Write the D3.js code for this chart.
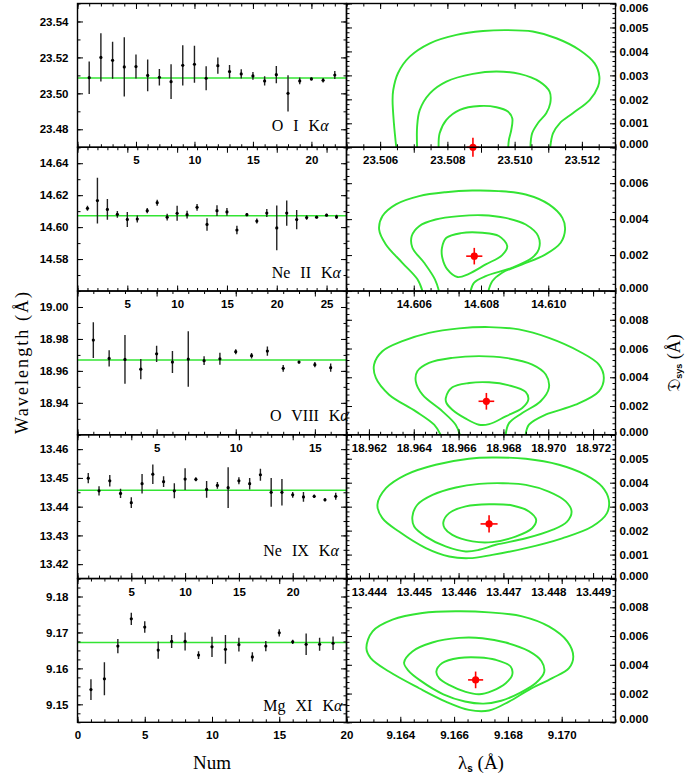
<!DOCTYPE html>
<html>
<head>
<meta charset="utf-8">
<script src="https://cdn.jsdelivr.net/npm/d3@7"></script>
<style>
  body { margin: 0; background: #fff; }
</style>
</head>
<body>
<div id="chart"></div>
<script>
// ---- values ----
var ionNames = ["O I", "Ne II", "O VIII", "Ne IX", "Mg XI"];

// left column: fitted wavelength of each observation (Num = 1..n) and its error
var oiWave = [23.5087, 23.5200, 23.5184, 23.5147, 23.5149, 23.5100, 23.5089, 23.5065, 23.5156, 23.5162, 23.5084,
              23.5154, 23.5121, 23.5108, 23.5097, 23.5069, 23.5104, 23.5000, 23.5069, 23.5080, 23.5073, 23.5102];
var oiErr  = [0.0090, 0.0134, 0.0103, 0.0165, 0.0067, 0.0088, 0.0046, 0.0097, 0.0112, 0.0103, 0.0067,
              0.0045, 0.0037, 0.0026, 0.0022, 0.0026, 0.0048, 0.0101, 0.0019, 0.0008, 0.0013, 0.0022];
var neiiWave = [14.6118, 14.6166, 14.6111, 14.6080, 14.6048, 14.6051, 14.6103, 14.6153, 14.6062, 14.6087, 14.6078, 14.6124, 14.6017,
                14.6103, 14.6095, 14.5982, 14.6078, 14.6038, 14.6088, 14.5995, 14.6088, 14.6047, 14.6060, 14.6062, 14.6075, 14.6064];
var neiiErr  = [0.0016, 0.0143, 0.0065, 0.0021, 0.0047, 0.0022, 0.0016, 0.0019, 0.0021, 0.0047, 0.0024, 0.0021, 0.0039,
                0.0034, 0.0024, 0.0026, 0.0010, 0.0016, 0.0025, 0.0140, 0.0079, 0.0061, 0.0014, 0.0008, 0.0008, 0.0013];
var oviiiWave = [18.9793, 18.9678, 18.9672, 18.9611, 18.9707, 18.9655, 18.9674, 18.9664,
                 18.9676, 18.9720, 18.9695, 18.9724, 18.9616, 18.9655, 18.9639, 18.9620];
var oviiiErr  = [0.0112, 0.0051, 0.0152, 0.0064, 0.0051, 0.0069, 0.0174, 0.0027,
                 0.0038, 0.0016, 0.0017, 0.0029, 0.0021, 0.0009, 0.0016, 0.0026];
var neixWave = [13.4499, 13.4455, 13.4490, 13.4446, 13.4414, 13.4480, 13.4513, 13.4487, 13.4455, 13.4496, 13.4495, 13.4460,
                13.4474, 13.4466, 13.4490, 13.4480, 13.4511, 13.4450, 13.4450, 13.4441, 13.4434, 13.4436, 13.4424, 13.4436];
var neixErr  = [0.0018, 0.0016, 0.0020, 0.0016, 0.0019, 0.0034, 0.0034, 0.0019, 0.0026, 0.0038, 0.0007, 0.0029,
                0.0012, 0.0071, 0.0012, 0.0020, 0.0021, 0.0050, 0.0046, 0.0010, 0.0017, 0.0006, 0.0006, 0.0012];
var mgxiWave = [9.1541, 9.1571, 9.1662, 9.1738, 9.1715, 9.1651, 9.1675, 9.1675, 9.1637, 9.1660,
                9.1653, 9.1666, 9.1632, 9.1662, 9.1699, 9.1674, 9.1667, 9.1667, 9.1670];
var mgxiErr  = [0.0029, 0.0046, 0.0020, 0.0017, 0.0016, 0.0024, 0.0018, 0.0025, 0.0011, 0.0028,
                0.0040, 0.0019, 0.0013, 0.0014, 0.0010, 0.0006, 0.0030, 0.0018, 0.0019];

// green horizontal line in each left panel
var fitWave = [23.5086, 14.6071, 18.9668, 13.4457, 9.1672];

// right column: best fit (red) and its errors
var bestWave    = [23.50876, 14.6078, 18.96724, 13.44668, 9.1668];
var bestWaveErr = [0.00018, 0.00024, 0.00035, 0.00019, 0.00028];
var bestSys     = [0, 0.00194, 0.00233, 0.00228, 0.00295];
var bestSysErr  = [0.0004, 0.00046, 0.00058, 0.00036, 0.00058];

// confidence contours [lambda_s, D_sys], outer -> inner
var oiContours = [
  [[23.50648,0],[23.50641,0.001],[23.50637,0.00197],[23.50639,0.00239],[23.50653,0.00309],[23.50688,0.00378],[23.50748,0.00434],
   [23.50827,0.00469],[23.50906,0.00485],[23.50975,0.00489],[23.51054,0.00483],[23.51124,0.00455],[23.51193,0.00406],
   [23.51238,0.0035],[23.51252,0.00295],[23.51248,0.00253],[23.51223,0.00197],[23.51173,0.00142],[23.51134,0.001],
   [23.51114,0.00058],[23.51106,0]],
  [[23.5071,0],[23.5071,0.00086],[23.50718,0.00156],[23.50748,0.00225],[23.50797,0.00274],[23.50876,0.00306],[23.50946,0.00316],
   [23.51015,0.00306],[23.51074,0.00274],[23.51104,0.00232],[23.51106,0.00184],[23.51094,0.00142],[23.51069,0.001],
   [23.51052,0.00058],[23.51047,0]],
  [[23.50774,0],[23.50777,0.00058],[23.50797,0.00114],[23.50837,0.00156],[23.50896,0.00172],[23.50946,0.00167],
   [23.5098,0.00149],[23.50993,0.00121],[23.5099,0.00072],[23.50983,0.00031],[23.50981,0]]
];
var neiiContours = [
  [[14.60626,0],[14.60611,0.00065],[14.60566,0.00157],[14.60517,0.00259],[14.60497,0.00343],[14.60507,0.00417],[14.60547,0.00482],
   [14.60616,0.00528],[14.60695,0.0055],[14.60774,0.00559],[14.60853,0.00556],[14.60933,0.00537],[14.61002,0.00482],
   [14.61042,0.00407],[14.6105,0.00343],[14.61037,0.00269],[14.60992,0.00204],[14.60923,0.00148],[14.60863,0.00102],
   [14.60834,0.00056],[14.60822,0]],
  [[14.60675,0],[14.60663,0.00065],[14.60631,0.00157],[14.60596,0.00241],[14.60594,0.00306],[14.60616,0.00361],[14.60665,0.00398],
   [14.60735,0.00417],[14.60804,0.00422],[14.60873,0.00407],[14.60933,0.0037],[14.6097,0.00306],[14.60972,0.00232],
   [14.60952,0.00185],[14.60893,0.0013],[14.60814,0.00083],[14.60779,0.00046],[14.60769,0]],
  [[14.60684,0.00241],[14.60697,0.00296],[14.6074,0.00322],[14.60804,0.00324],[14.60853,0.00306],[14.60878,0.0025],
   [14.60863,0.002],[14.60814,0.00148],[14.60764,0.00096],[14.6073,0.00078],[14.607,0.0012],[14.60685,0.00185]]
];
var oviiiContours = [
  [[18.9652,0],[18.96491,0.0007],[18.96409,0.00163],[18.9629,0.00279],[18.96231,0.00395],[18.96223,0.00488],[18.9626,0.00581],
   [18.96349,0.00651],[18.96468,0.00709],[18.96602,0.0074],[18.96736,0.00749],[18.96869,0.00733],[18.97003,0.00674],
   [18.97137,0.00581],[18.97226,0.00488],[18.97248,0.00395],[18.97226,0.00302],[18.97122,0.00209],[18.96988,0.0014],
   [18.96914,0.0007],[18.96899,0]],
  [[18.96606,0],[18.96587,0.0007],[18.96528,0.00163],[18.96439,0.00279],[18.96409,0.00372],[18.96416,0.00442],[18.96468,0.005],
   [18.96572,0.00535],[18.96691,0.00547],[18.9681,0.00535],[18.96929,0.00488],[18.96989,0.00419],[18.97003,0.00326],
   [18.96966,0.00233],[18.96884,0.00151],[18.96825,0.00081],[18.9681,0]],
  [[18.96543,0.00256],[18.96572,0.0033],[18.96647,0.0036],[18.96736,0.00365],[18.96825,0.00344],[18.96899,0.00298],
   [18.96911,0.00244],[18.96884,0.00186],[18.9681,0.00128],[18.96736,0.00074],[18.96691,0.0007],[18.96632,0.00112],
   [18.96572,0.00174],[18.96546,0.00221]]
];
var neixContours = [
  [[13.44419,0.00308],[13.44438,0.00377],[13.44482,0.00433],[13.44549,0.00475],[13.44623,0.005],[13.44675,0.00505],
   [13.4475,0.005],[13.44824,0.00475],[13.44883,0.00433],[13.4492,0.00384],[13.44935,0.00329],[13.44931,0.00273],
   [13.44898,0.00217],[13.44831,0.00168],[13.4475,0.00127],[13.44675,0.00099],[13.44623,0.00085],[13.44579,0.00092],
   [13.44527,0.00127],[13.44467,0.00196],[13.4443,0.00252]],
  [[13.44497,0.00259],[13.44508,0.00308],[13.44542,0.00349],[13.44594,0.0038],[13.44646,0.00395],[13.44698,0.00398],
   [13.4475,0.00391],[13.44801,0.00363],[13.44839,0.00322],[13.44852,0.0028],[13.44842,0.00238],[13.44809,0.00203],
   [13.4475,0.00168],[13.44683,0.00141],[13.44646,0.0012],[13.44616,0.00113],[13.44571,0.00134],[13.44527,0.00175],
   [13.44501,0.00217]],
  [[13.44566,0.00235],[13.44579,0.00273],[13.44616,0.00301],[13.44668,0.0031],[13.4472,0.00305],[13.44757,0.0028],
   [13.44773,0.00245],[13.44764,0.0021],[13.44727,0.00175],[13.44675,0.00152],[13.44631,0.00155],[13.44586,0.00182],
   [13.44569,0.0021]]
];
var mgxiContours = [
  [[9.16274,0.00516],[9.16297,0.00633],[9.16371,0.00714],[9.16482,0.0076],[9.16606,0.00772],[9.1673,0.00765],[9.16853,0.00737],
   [9.16952,0.00667],[9.17021,0.00563],[9.17043,0.00458],[9.17027,0.00377],[9.16965,0.00307],[9.16878,0.00226],
   [9.16804,0.00144],[9.1673,0.00082],[9.16655,0.00086],[9.16569,0.00144],[9.1647,0.00237],[9.16358,0.00353],[9.1629,0.00447]],
  [[9.16414,0.00415],[9.16445,0.00493],[9.16519,0.00555],[9.16618,0.00587],[9.16705,0.00585],[9.16792,0.00555],[9.16878,0.00495],
   [9.16925,0.00425],[9.16935,0.0035],[9.16905,0.00275],[9.16845,0.00205],[9.16775,0.0015],[9.1671,0.0013],[9.1664,0.00145],
   [9.1656,0.00195],[9.16475,0.0029],[9.1643,0.0036]],
  [[9.16534,0.00353],[9.16556,0.00412],[9.16618,0.00447],[9.16693,0.00451],[9.16754,0.00435],[9.1681,0.00388],[9.16816,0.0033],
   [9.16792,0.00272],[9.16742,0.00219],[9.16693,0.00195],[9.16643,0.00212],[9.16581,0.0026],[9.16544,0.00307]]
];
var contourClosed = [[false, false, false], [false, false, true], [false, false, true], [true, true, true], [true, true, true]];

// axis ranges and tick labels
var leftYDomain = [[23.47, 23.55], [14.56, 14.65], [18.92, 19.01], [13.415, 13.465], [9.145, 9.185]];
var leftYLabels = [[23.48, 23.50, 23.52, 23.54], [14.58, 14.60, 14.62, 14.64], [18.94, 18.96, 18.98, 19.00],
                   [13.42, 13.43, 13.44, 13.45, 13.46], [9.15, 9.16, 9.17, 9.18]];
var leftYMinor = [0.01, 0.01, 0.01, 0.005, 0.0025];
var rightXDomain = [[23.505, 23.513], [14.604, 14.612], [18.961, 18.973], [13.4435, 13.4495], [9.162, 9.172]];
var rightXLabels = [[23.506, 23.508, 23.510, 23.512], [14.606, 14.608, 14.610],
                    [18.962, 18.964, 18.966, 18.968, 18.970, 18.972],
                    [13.444, 13.445, 13.446, 13.447, 13.448, 13.449], [9.164, 9.166, 9.168, 9.170]];
var rightXMinor = [0.0005, 0.0005, 0.0005, 0.0002, 0.0005];
var rightYMax = [0.006, 0.008, 0.010, 0.006, 0.010];
var rightYStep = [0.001, 0.002, 0.002, 0.001, 0.002];

// ---- drawing ----
var width = 687, height = 779;
var leftX0 = 77.5, midX = 346.5, rightX1 = 615.5;
var top0 = 3.5, rowH = 143.76;
var green = "#33e433", red = "#ff0000";
var labelFont = "'Liberation Sans', Arial, sans-serif";
var serifFont = "'Liberation Serif', 'Times New Roman', serif";

var leftWave = [oiWave, neiiWave, oviiiWave, neixWave, mgxiWave];
var leftErr = [oiErr, neiiErr, oviiiErr, neixErr, mgxiErr];
var contours = [oiContours, neiiContours, oviiiContours, neixContours, mgxiContours];

var svg = d3.select("#chart").append("svg")
    .attr("width", width)
    .attr("height", height);
svg.append("rect").attr("width", width).attr("height", height).attr("fill", "#fff");

function ticksBy(domain, step) {
    var lo = Math.ceil(domain[0] / step - 1e-6), hi = Math.floor(domain[1] / step + 1e-6);
    return d3.range(lo, hi + 1).map(function(k) { return +(k * step).toFixed(6); });
}

// inward ticks on all four sides of a box
function boxTicks(g, xs, ys, xMajor, xMinor, yMajor, yMinor) {
    var xr = xs.range(), yr = ys.range();
    var sides = [
        [d3.axisBottom, "translate(0," + yr[0] + ")", xs, xMajor, xMinor],
        [d3.axisTop, "translate(0," + yr[1] + ")", xs, xMajor, xMinor],
        [d3.axisLeft, "translate(" + xr[0] + ",0)", ys, yMajor, yMinor],
        [d3.axisRight, "translate(" + xr[1] + ",0)", ys, yMajor, yMinor]
    ];
    sides.forEach(function(s) {
        g.append("g").attr("transform", s[1])
            .call(s[0](s[2]).tickValues(s[4]).tickSize(-3).tickFormat(""));
        g.append("g").attr("transform", s[1])
            .call(s[0](s[2]).tickValues(s[3]).tickSize(-5.5).tickFormat(""));
    });
    g.selectAll(".domain").remove();
    g.selectAll(".tick line").attr("stroke", "#000").attr("stroke-width", 1);
}

function styleLabels(g, size) {
    g.select(".domain").remove();
    g.attr("font-family", null).attr("font-size", null);
    g.selectAll("text")
        .style("font-family", labelFont)
        .style("font-weight", "bold")
        .style("font-size", size + "px")
        .attr("fill", "#000");
}

ionNames.forEach(function(ion, i) {
    var top = top0 + i * rowH, bottom = top + rowH;
    var isLast = i === ionNames.length - 1;
    var vals = leftWave[i], errs = leftErr[i], n = vals.length;

    // ----- left panel: individual measurements -----
    var x = d3.scaleLinear().domain([0, n + 1]).range([leftX0, midX]);
    var y = d3.scaleLinear().domain(leftYDomain[i]).range([bottom, top]);
    var left = svg.append("g");

    var clipL = "clipL" + i;
    svg.append("clipPath").attr("id", clipL).append("rect")
        .attr("x", leftX0).attr("y", top).attr("width", midX - leftX0).attr("height", rowH);

    left.append("line")
        .attr("clip-path", "url(#" + clipL + ")")
        .attr("x1", x(0)).attr("x2", x(n + 1))
        .attr("y1", y(fitWave[i])).attr("y2", y(fitWave[i]))
        .attr("stroke", green).attr("stroke-width", 1.5);

    var pts = left.append("g").attr("clip-path", "url(#" + clipL + ")")
        .selectAll(".pt").data(vals).enter().append("g").attr("class", "pt");
    pts.append("line")
        .attr("x1", function(d, k) { return x(k + 1); })
        .attr("x2", function(d, k) { return x(k + 1); })
        .attr("y1", function(d, k) { return y(d - errs[k]); })
        .attr("y2", function(d, k) { return y(d + errs[k]); })
        .attr("stroke", "#222").attr("stroke-width", 1.4);
    pts.append("circle")
        .attr("cx", function(d, k) { return x(k + 1); })
        .attr("cy", function(d) { return y(d); })
        .attr("r", 1.6).attr("fill", "#000");

    var xMajorL = ticksBy([0, n + 1], 5), xMinorL = ticksBy([0, n + 1], 1);
    boxTicks(left.append("g"), x, y, xMajorL, xMinorL,
        leftYLabels[i], ticksBy(leftYDomain[i], leftYMinor[i]));

    var yl = left.append("g").attr("transform", "translate(" + leftX0 + ",0)")
        .call(d3.axisLeft(y).tickValues(leftYLabels[i]).tickSize(0).tickPadding(9).tickFormat(d3.format(".2f")));
    styleLabels(yl, 11.5);

    var xLabs = xMajorL.filter(function(v) { return isLast ? true : (v > 0 && v < n + 1); });
    var xl = left.append("g").attr("transform", "translate(0," + bottom + ")")
        .call(d3.axisBottom(x).tickValues(xLabs).tickSize(0).tickPadding(9).tickFormat(d3.format("d")));
    styleLabels(xl, 11.5);

    var lab = left.append("text")
        .attr("x", [271.7, 271.7, 270, 263.3, 263.3][i])
        .attr("y", top + [127, 131, 130, 121.5, 132.5][i])
        .style("font-family", serifFont).style("font-size", "16px")
        .style("word-spacing", "6px").attr("fill", "#000");
    lab.append("tspan").text(ion + " K");
    lab.append("tspan").text("α").style("font-style", "italic");

    // ----- right panel: contours of lambda_s vs D_sys -----
    var xr = d3.scaleLinear().domain(rightXDomain[i]).range([midX, rightX1]);
    var yr = d3.scaleLinear().domain([0, rightYMax[i]]).range([bottom, top]);
    var right = svg.append("g");

    var clipR = "clipR" + i;
    svg.append("clipPath").attr("id", clipR).append("rect")
        .attr("x", midX).attr("y", top).attr("width", rightX1 - midX).attr("height", rowH);

    var cg = right.append("g").attr("clip-path", "url(#" + clipR + ")");
    contours[i].forEach(function(c, k) {
        var line = d3.line()
            .x(function(p) { return xr(p[0]); })
            .y(function(p) { return yr(p[1]); })
            .curve(contourClosed[i][k] ? d3.curveCatmullRomClosed.alpha(0.5) : d3.curveCatmullRom.alpha(0.5));
        cg.append("path").attr("d", line(c))
            .attr("fill", "none").attr("stroke", green).attr("stroke-width", 1.9);
    });

    var yMajorR = ticksBy([0, rightYMax[i]], rightYStep[i]);
    boxTicks(right.append("g"), xr, yr, rightXLabels[i], ticksBy(rightXDomain[i], rightXMinor[i]),
        yMajorR, ticksBy([0, rightYMax[i]], rightYStep[i] / 5));

    var yLabR = yMajorR.filter(function(v) { return i === 0 || v < rightYMax[i] - 1e-9; });
    var yrl = right.append("g").attr("transform", "translate(" + rightX1 + ",0)")
        .call(d3.axisRight(yr).tickValues(yLabR).tickSize(0).tickPadding(4).tickFormat(d3.format(".3f")));
    styleLabels(yrl, 11.5);
    yrl.selectAll(".tick text").attr("y", function(v) {
        if (v === 0) return -3;
        if (v >= rightYMax[i] - 1e-9) return 4;
        return 0;
    });

    var xrl = right.append("g").attr("transform", "translate(0," + bottom + ")")
        .call(d3.axisBottom(xr).tickValues(rightXLabels[i]).tickSize(0).tickPadding(9).tickFormat(d3.format(".3f")));
    styleLabels(xrl, 11.5);

    // frames
    svg.append("rect").attr("x", leftX0).attr("y", top).attr("width", midX - leftX0).attr("height", rowH)
        .attr("fill", "none").attr("stroke", "#000").attr("stroke-width", 1.4);
    svg.append("rect").attr("x", midX).attr("y", top).attr("width", rightX1 - midX).attr("height", rowH)
        .attr("fill", "none").attr("stroke", "#000").attr("stroke-width", 1.4);

    // best-fit point
    var bx = xr(bestWave[i]), by = yr(bestSys[i]);
    var best = svg.append("g");
    best.append("line")
        .attr("x1", xr(bestWave[i] - bestWaveErr[i])).attr("x2", xr(bestWave[i] + bestWaveErr[i]))
        .attr("y1", by).attr("y2", by)
        .attr("stroke", red).attr("stroke-width", 1.6);
    best.append("line")
        .attr("x1", bx).attr("x2", bx)
        .attr("y1", yr(bestSys[i] - bestSysErr[i])).attr("y2", yr(bestSys[i] + bestSysErr[i]))
        .attr("stroke", red).attr("stroke-width", 1.6);
    best.append("circle").attr("cx", bx).attr("cy", by).attr("r", 3.6).attr("fill", red);
});

// axis titles
var bottomY = top0 + 5 * rowH;
var midY = (top0 + bottomY) / 2;
svg.append("text")
    .attr("x", (leftX0 + midX) / 2).attr("y", bottomY + 47)
    .attr("text-anchor", "middle")
    .style("font-family", serifFont).style("font-size", "19px")
    .text("Num");

var lt = svg.append("text")
    .attr("x", (midX + rightX1) / 2).attr("y", bottomY + 47)
    .attr("text-anchor", "middle")
    .style("font-family", serifFont).style("font-size", "19px");
lt.append("tspan").text("λ");
lt.append("tspan").text("s").attr("dy", 3).style("font-size", "10px").style("font-weight", "bold")
    .style("font-family", labelFont);
lt.append("tspan").text(" (Å)").attr("dy", -3);

svg.append("text")
    .attr("transform", "translate(28," + midY + ") rotate(-90)")
    .attr("text-anchor", "middle")
    .attr("textLength", 142).attr("lengthAdjust", "spacing")
    .style("font-family", serifFont).style("font-size", "18px")
    .text("Wavelength (Å)");

var rt = svg.append("text")
    .attr("transform", "translate(680," + midY + ") rotate(-90)")
    .attr("text-anchor", "middle")
    .style("font-family", serifFont).style("font-size", "18px");
rt.append("tspan").text("𝔇");
rt.append("tspan").text("sys").attr("dy", 2).style("font-size", "9px").style("font-weight", "bold")
    .style("font-family", labelFont);
rt.append("tspan").text(" (Å)").attr("dy", -2);
</script>
</body>
</html>
